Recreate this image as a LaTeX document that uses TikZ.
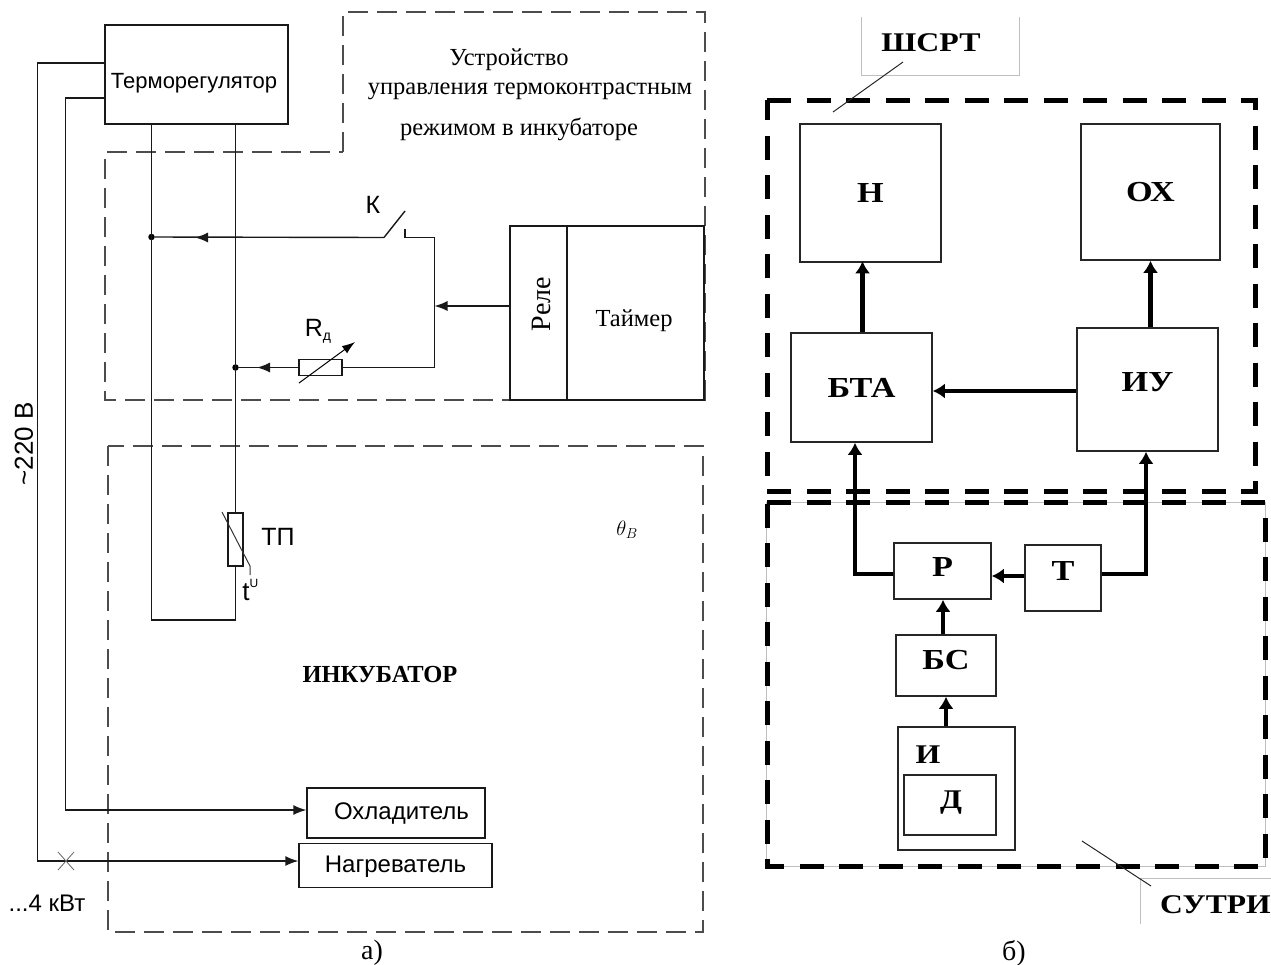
\documentclass[tikz,border=0pt]{standalone}
\usepackage{fontspec}
\setmainfont{Liberation Serif}
\newfontfamily\arialf{Liberation Sans}
\usetikzlibrary{arrows.meta,positioning,calc}
\newcommand{\wide}[1]{\scalebox{1.18}[1]{#1}}
\newcommand{\shifted}[2]{\raisebox{#1}[\height][\depth]{#2}}
\tikzset{
  x=1pt,y=-1pt,
  wire/.style={draw=black!90,line width=1.4pt},
  thinarrow/.style={wire,-{Latex[length=13pt,width=10pt]}},
  thick arrow/.style={draw=black,line width=4.6pt,-{Latex[length=12pt,width=15pt]}},
  boxa/.style={draw=black!90,line width=1.3pt,fill=white,inner sep=0pt,font=\arialf\fontsize{24}{24}\selectfont},
  boxb/.style={draw=black!85,line width=1.5pt,inner sep=0pt,font=\fontsize{29}{29}\selectfont\bfseries},
  dashthin/.style={draw=black!70,line width=1.2pt,dash pattern=on 20pt off 9pt},
  dashthick/.style={draw=black,line width=5pt,dash pattern=on 24pt off 15.5pt},
  lab/.style={inner sep=0pt,font=\fontsize{24.5}{24.5}\selectfont},
  labsans/.style={inner sep=0pt,font=\arialf\fontsize{25}{25}\selectfont},
  dotn/.style={circle,fill=black,inner sep=0pt,minimum size=6.5pt},
  grayl/.style={draw=black!25,line width=1pt},
  leader/.style={draw=black!85,line width=1pt},
}
\begin{document}
\begin{tikzpicture}
\useasboundingbox[fill=white] (0,0) rectangle (1271,964);

% --- part a: dashed regions
\draw[dashthin] (343,152) -- (343,12) -- (705,12) -- (705,400) -- (105,400) -- (105,152) -- cycle;
\draw[dashthin] (108,446) rectangle (703,932);

% --- part a: boxes
\node[boxa,minimum width=183pt,minimum height=99pt,font=\arialf\fontsize{22}{22}\selectfont] (therm) at (196.5,74.5) {\hspace*{-5pt}\shifted{-9pt}{Терморегулятор}};
\node[boxa,minimum width=178pt,minimum height=50pt] (cool) at (396,813) {\hspace*{11pt}Охладитель};
\node[boxa,minimum width=193pt,minimum height=44pt] (heat) at (395.5,865.5) {\shifted{-1pt}{Нагреватель}};
\node[boxa,minimum width=194pt,minimum height=174pt] (relay) at (607,313) {};
\node[boxa,minimum width=15pt,minimum height=53pt] (tp) at (235.5,539.5) {};
\node[boxa,minimum width=43pt,minimum height=16pt] (rd) at (320.5,367.5) {};
\draw[wire] (567,226) -- (567,400);

% --- named points on the wires
\coordinate (tl) at (151.5,124);
\coordinate (tr) at (235.5,124);
\coordinate (bl) at (151.5,620);
\coordinate (br) at (235.5,620);
\node[dotn] (dotA) at (151.5,237) {};
\node[dotn] (dotB) at (235.5,367.5) {};
\coordinate (swL) at (384,237.5);
\coordinate (swT) at (405,211);
\coordinate (swR) at (405,229);
\coordinate (swC) at (405,237.5);
\coordinate (jTop) at (434.5,237.5);
\coordinate (jMid) at (434.5,306);
\coordinate (jBot) at (434.5,367.5);
\coordinate (arrA) at (195,237.5);
\coordinate (arrB) at (257,367.5);
\coordinate (relayIn) at (510,306);
\coordinate (coolIn) at (307,810);
\coordinate (heatIn) at (300,861);
\coordinate (h1) at (37.5,63);
\coordinate (h2) at (37.5,861);
\coordinate (c1) at (65.5,98);
\coordinate (c2) at (65.5,810);
\coordinate (xm) at (66,861);

% --- part a: wires
\draw[wire] (tl) -- (bl) -- (br) -- (tp.south);
\draw[wire] (tr) -- (tp.north);
\draw[wire] (swL) -- (dotA);
\draw[thinarrow] (swL) -- (arrA);
\draw[wire] (swL) -- (swT);
\draw[wire] (swR) -- (swC) -- (jTop) -- (jBot) -- (rd.east);
\draw[thinarrow] (relayIn) -- (jMid);
\draw[wire] (rd.west) -- (dotB);
\draw[thinarrow] (rd.west) -- (arrB);
\draw[thinarrow] (therm.west |- h1) -- (h1) -- (h2) -- (heat.west |- heatIn);
\draw[thinarrow] (therm.west |- c1) -- (c1) -- (c2) -- (cool.west |- coolIn);
\draw[draw=black!60,line width=.8pt] ($(xm)+(-8,-9)$) -- ($(xm)+(8,9)$) ($(xm)+(8,-9)$) -- ($(xm)+(-8,9)$);

% variable resistor and thermistor strokes
\coordinate (rv1) at (299,383);
\coordinate (rv2) at (355,342);
\draw[draw=black,line width=1pt,-{Latex[length=13pt,width=9pt]}] (rv1) -- (rv2);
\coordinate (tv1) at (222,512);
\coordinate (tv2) at (250,566);
\coordinate (tv3) at (250,575);
\draw[draw=black!80,line width=1pt] (tv1) -- (tv2) -- (tv3);

% --- part a: labels
\node[lab] (l1) at (509,60) {Устройство};
\node[lab] (l2) at (530,91) {управления термоконтрастным};
\node[lab] (l3) at (519,129) {режимом в инкубаторе};
\node[labsans] (lK) at (373,205) {К};
\node[labsans] (lR) at (318,331) {R\raisebox{-4pt}{\fontsize{14}{14}\selectfont д}};
\node[inner sep=0pt,rotate=90,font=\arialf\fontsize{26}{26}\selectfont] (l220) at (24,444) {\textasciitilde 220 В};
\node[labsans] (lT) at (278,537) {ТП};
\node[labsans,font=\arialf\fontsize{26}{26}\selectfont] (lt) at (246,592) {t};
\node[inner sep=0pt,font=\arialf\fontsize{12}{12}\selectfont] (lu) at (254,583) {U};
\node[lab,font=\fontsize{24.5}{24.5}\selectfont\bfseries] (lInc) at (380,674) {ИНКУБАТОР};
\node[lab,font=\fontsize{20}{20}\selectfont] (lTh) at (627,530) {$\theta_{B}$};
\node[lab,font=\fontsize{28}{28}\selectfont] (lRel) at (541,304) [rotate=90] {Реле};
\node[lab] (lTim) at (634,321) {Таймер};
\node[labsans,font=\arialf\fontsize{24}{24}\selectfont] (lkW) at (47,903) {...4 кВт};
\node[lab,font=\fontsize{28}{28}\selectfont] (la) at (372,953) {а)};
\node[lab,font=\fontsize{28}{28}\selectfont] (lb) at (1014,953) {б)};

% --- part b: label frames
\coordinate (g1) at (861,17);
\coordinate (g2) at (861,75);
\coordinate (g3) at (1019,75);
\coordinate (g4) at (1019,17);
\draw[grayl] (g1) -- (g2) -- (g3) -- (g4);
\coordinate (g5) at (1140,924);
\coordinate (g6) at (1140,878);
\coordinate (g7) at (1271,878);
\draw[grayl] (g5) -- (g6) -- (g7);
\draw[grayl,line width=.8pt] (766,502) rectangle (1265,866);
\node[lab,font=\fontsize{27}{27}\selectfont\bfseries] (lS) at (931,43) {\wide{ШСРТ}};
\node[lab,font=\fontsize{27}{27}\selectfont\bfseries,anchor=west] (lU) at (1160,905) {\scalebox{1.17}[1]{СУТРИ}};

% --- part b: thick dashed regions
\draw[dashthick] (767,100) -- (1255,100) -- (1255,491) -- (767,491) -- cycle;
\draw[dashthick] (767,502) -- (1265,502) -- (1265,866) -- (767,866) -- cycle;

% leaders
\coordinate (ld1) at (903,62);
\coordinate (ld2) at (833,112);
\draw[leader] (ld1) -- (ld2);
\coordinate (ld3) at (1082,841);
\coordinate (ld4) at (1151,886);
\draw[leader] (ld3) -- (ld4);

% --- part b: boxes
\node[boxb,minimum width=141pt,minimum height=138pt] (N) at (870.5,193) {\wide{Н}};
\node[boxb,minimum width=139pt,minimum height=136pt] (OX) at (1150.5,192) {\wide{ОХ}};
\node[boxb,minimum width=141pt,minimum height=109pt] (BTA) at (861.5,387.5) {\wide{БТА}};
\node[boxb,minimum width=141pt,minimum height=123pt] (IU) at (1147.5,389.5) {\shifted{7pt}{\wide{ИУ}}};
\node[boxb,minimum width=97pt,minimum height=56pt] (R) at (942.5,571) {\shifted{4pt}{\wide{Р}}};
\node[boxb,minimum width=76pt,minimum height=66pt] (T) at (1063,578) {\shifted{7pt}{\wide{Т}}};
\node[boxb,minimum width=100pt,minimum height=61pt] (BS) at (946,665.5) {\shifted{5pt}{\wide{БС}}};
\node[boxb,minimum width=117pt,minimum height=123pt] (I) at (956.5,788.5) {};
\node[boxb,minimum width=92pt,minimum height=60pt] (D) at (950,805) {};
\node[lab,font=\fontsize{27}{27}\selectfont\bfseries] (lI) at (928,755) {\wide{И}};
\node[lab,font=\fontsize{27}{27}\selectfont\bfseries] (lD) at (951,803) {\wide{Д}};

% --- part b: arrows
\draw[thick arrow] (BTA.north -| N.south) ++(-8,0) -- ++(0,-71);
\draw[thick arrow] (IU.north -| OX.south) -- (OX.south);
\draw[thick arrow] (IU.west |- 0,391) -- (BTA.east |- 0,391);
\coordinate (p1) at (855,574);
\coordinate (p2) at (1146,574);
\draw[thick arrow] (R.west |- p1) -- (p1) -- (p1 |- BTA.south);
\draw[thick arrow] (T.east |- p2) -- (p2) -- (p2 |- IU.south);
\draw[thick arrow] (T.west |- 0,576) -- (R.east |- 0,576);
\draw[thick arrow] (BS.north -| 943,0) -- (R.south -| 943,0);
\draw[thick arrow] (I.north -| 946,0) -- (BS.south -| 946,0);
\end{tikzpicture}
\end{document}
